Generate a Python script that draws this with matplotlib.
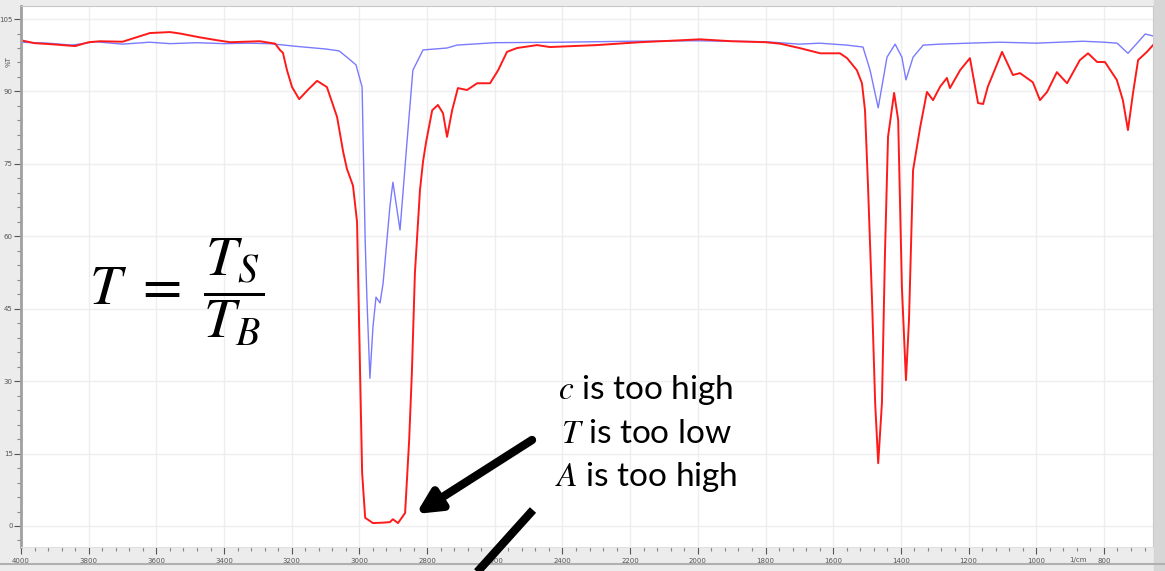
import numpy as np
import matplotlib.pyplot as plt
from matplotlib.ticker import MultipleLocator

# blue trace (reference)
wn_blue = [4000, 3920, 3850, 3780, 3700, 3620, 3560, 3480, 3400, 3330, 3265, 3180,
           3100, 3060, 3037, 3010, 2992, 2989, 2983, 2978, 2969, 2960, 2951, 2939,
           2930, 2910, 2901, 2880, 2859, 2842, 2812, 2741, 2712, 2600, 2400, 2200,
           2000, 1800, 1700, 1640, 1560, 1512, 1491, 1467, 1441, 1417, 1397, 1385,
           1364, 1334, 1284, 1200, 1107, 1000, 862, 800, 761, 729, 702, 678, 655]
t_blue = [100.2, 100.0, 99.6, 100.3, 99.8, 100.2, 99.9, 100.1, 99.9, 100.0, 99.9, 99.3,
          98.8, 98.4, 97.1, 95.5, 90.9, 79.9, 59.2, 47.4, 30.6, 41.2, 47.4, 46.2,
          50.3, 66.1, 71.2, 61.3, 79.9, 94.4, 98.6, 99.0, 99.6, 100.1, 100.2, 100.4,
          100.5, 100.3, 99.8, 100.0, 99.6, 99.2, 94.4, 86.6, 97.1, 99.8, 97.1, 92.4,
          97.1, 99.6, 99.8, 100.0, 100.2, 100.0, 100.4, 100.2, 100.0, 97.9, 100.0, 101.9, 101.5]

# red trace (sample, too concentrated)
wn_red = [4000, 3960, 3914, 3840, 3800, 3767, 3700, 3619, 3560, 3530, 3471, 3420, 3382,
          3294, 3249, 3235, 3226, 3214, 3199, 3178, 3150, 3125, 3096, 3066, 3048, 3037,
          3019, 3007, 2998, 2992, 2983, 2960, 2930, 2910, 2901, 2886, 2865, 2853, 2845,
          2836, 2821, 2812, 2803, 2785, 2768, 2753, 2741, 2726, 2709, 2682, 2652, 2614,
          2590, 2564, 2534, 2475, 2437, 2300, 2171, 2050, 1994, 1900, 1800, 1757, 1700,
          1638, 1580, 1559, 1530, 1515, 1506, 1497, 1485, 1476, 1467, 1456, 1447, 1438,
          1420, 1408, 1397, 1385, 1376, 1364, 1343, 1323, 1305, 1284, 1264, 1255, 1225,
          1196, 1172, 1157, 1143, 1101, 1069, 1048, 1010, 989, 968, 939, 909, 871, 847,
          820, 797, 762, 744, 729, 714, 699, 673, 655]
t_red = [100.6, 100.0, 99.8, 99.4, 100.2, 100.4, 100.3, 102.1, 102.3, 102.0, 101.2, 100.6, 100.2,
         100.4, 99.9, 98.6, 98.0, 94.4, 90.9, 88.4, 90.5, 92.2, 90.9, 84.7, 77.5, 74.0,
         70.5, 63.0, 31.7, 11.0, 1.7, 0.6, 0.7, 0.8, 1.4, 0.6, 2.7, 17.8, 31.7,
         52.4, 69.6, 75.5, 79.5, 86.1, 87.2, 85.5, 80.6, 86.1, 90.7, 90.3, 91.7, 91.7,
         94.4, 98.2, 99.0, 99.6, 99.2, 99.6, 100.2, 100.6, 100.8, 100.4, 100.2, 99.9, 99.0,
         97.9, 97.9, 96.9, 94.4, 91.7, 86.1, 70.2, 46.2, 25.5, 13.0, 25.5, 56.5, 80.6,
         89.7, 84.1, 49.5, 30.2, 42.7, 73.7, 82.6, 89.9, 88.2, 91.0, 92.8, 90.7, 94.4,
         96.9, 87.6, 87.4, 91.0, 98.2, 93.4, 93.8, 91.9, 88.2, 89.9, 94.0, 91.7, 96.5, 97.9,
         96.1, 96.1, 92.4, 88.2, 82.0, 89.7, 96.5, 98.2, 99.6]

y_ticks = [0, 15, 30, 45, 60, 75, 90, 105]
x_ticks = [4000, 3800, 3600, 3400, 3200, 3000, 2800, 2600, 2400, 2200, 2000,
           1800, 1600, 1400, 1200, 1000, 800]

W, H = 1165, 571
fig = plt.figure(figsize=(W / 100, H / 100), dpi=100, facecolor='#ececec')

# spectrum axes, placed in pixel terms of the screenshot
left, right, top, bottom = 21, 1153, 6, 547
ax = fig.add_axes([left / W, 1 - bottom / H, (right - left) / W, (bottom - top) / H])
ax.set_facecolor('white')
ax.plot(wn_blue, t_blue, color='#7a7aff', lw=1.0)
ax.plot(wn_red, t_red, color='#ff1a1a', lw=1.4)
ax.set_xlim(4000, 655)
ax.set_ylim(-4.35, 107.7)

ax.set_xticks(x_ticks)
ax.set_yticks(y_ticks)
ax.xaxis.set_minor_locator(MultipleLocator(40))
ax.yaxis.set_minor_locator(MultipleLocator(3))
ax.tick_params(axis='both', which='major', labelsize=5, colors='#555555', length=5, width=0.8)
ax.tick_params(axis='both', which='minor', colors='#888888', length=3, width=0.8)
ax.tick_params(axis='x', pad=3)
ax.tick_params(axis='y', pad=1)
ax.grid(True, which='major', color='#eeeeee', lw=1.0)
ax.set_axisbelow(True)
for s in ['top', 'right']:
    ax.spines[s].set_color('#c8c8c8')
ax.spines['left'].set_color('#a0a0a0')
ax.spines['left'].set_linewidth(2)
ax.spines['bottom'].set_color('#e0e0e0')

# overlay in pixel coordinates for the annotations
ov = fig.add_axes([0, 0, 1, 1])
ov.set_xlim(0, W)
ov.set_ylim(H, 0)
ov.axis('off')
ov.patch.set_alpha(0)

ov.text(9, 62, '%T', rotation=90, fontsize=5, color='#555555', ha='center', va='center')
ov.text(1078, 560, '1/cm', fontsize=5, color='#555555', ha='center', va='center')
ov.add_patch(plt.Rectangle((1154, 0), 11, H, color='#d6d6d6', zorder=0))
ov.plot([0, 1165], [564, 564], color='#b0b0b0', lw=1.5)

plt.rcParams['mathtext.fontset'] = 'stix'
ov.text(177, 292, r'$T\ =\ \dfrac{T_S}{T_B}$', fontsize=41, ha='center', va='center')

font = ['Lato', 'DejaVu Sans']
ov.text(646, 399, r'$c$ is too high', fontsize=24, ha='center', va='baseline', family=font)
ov.text(646, 443, r'$T$ is too low', fontsize=24, ha='center', va='baseline', family=font)
ov.text(646, 486, r'$A$ is too high', fontsize=24, ha='center', va='baseline', family=font)

ov.annotate('', xy=(416, 514), xytext=(532, 440),
            arrowprops=dict(arrowstyle='-|>,head_length=1.4,head_width=0.7',
                            lw=6, color='black', shrinkA=0, shrinkB=0))
ov.plot([533, 470], [510, 580], color='black', lw=6, solid_capstyle='butt', clip_on=False)

plt.savefig('out.png', dpi=100, facecolor=fig.get_facecolor())
